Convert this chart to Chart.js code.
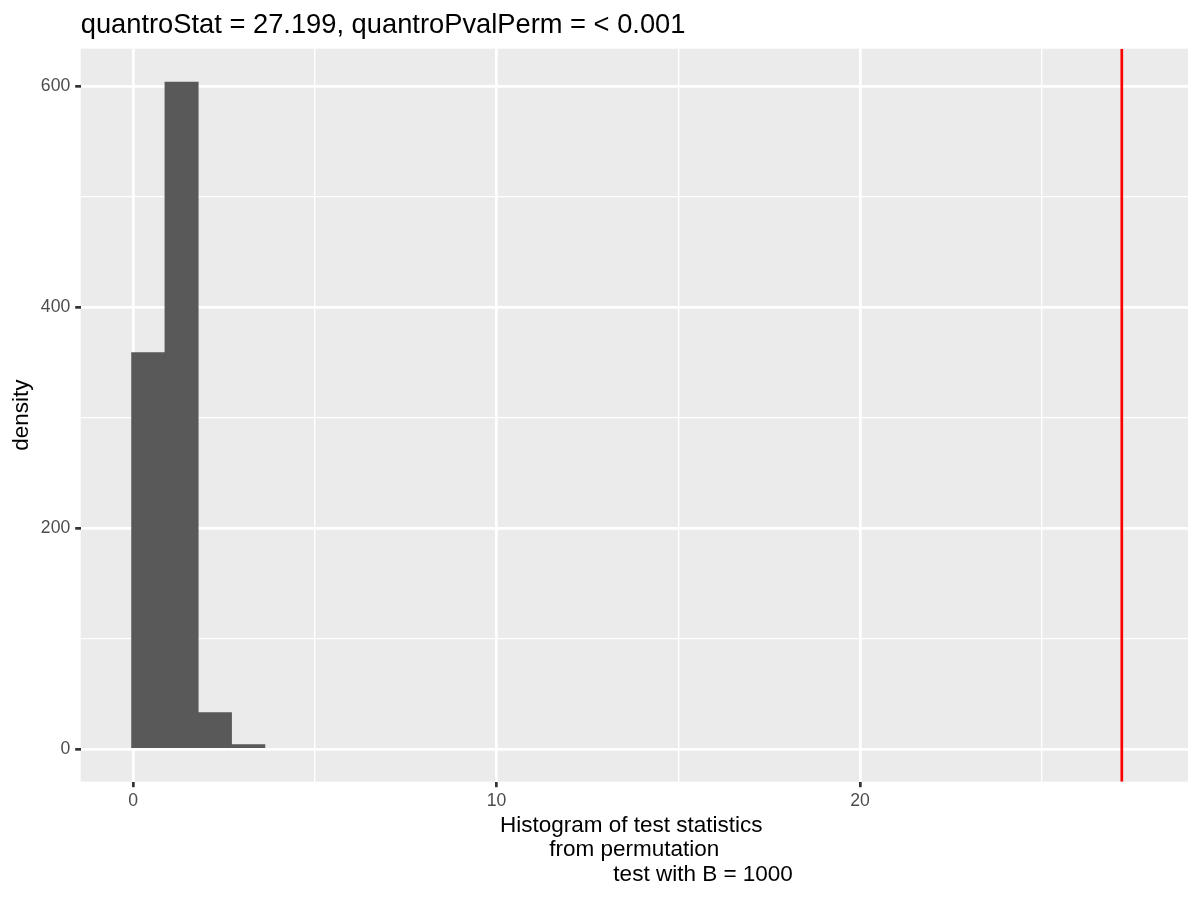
<!DOCTYPE html>
<html>
<head>
<meta charset="utf-8">
<script src="https://cdn.jsdelivr.net/npm/chart.js@4/dist/chart.umd.min.js"></script>
<style>
  html, body { margin: 0; padding: 0; background: #ffffff; }
  #wrap { width: 1200px; height: 900px; }
</style>
</head>
<body>
<div id="wrap"><canvas id="histChart" width="1200" height="900"></canvas></div>
<script>
// permutation test statistics, binned (ggplot histogram)
const binCenters = [0.418, 1.335, 2.252, 3.169];
const binCounts = [359, 604, 33, 4];
const quantroStat = [27.199];
const xTickValues = [0, 10, 20];
const yTickValues = [0, 200, 400, 600];
const plotTitle = 'quantroStat = 27.199, quantroPvalPerm = < 0.001';
const xTitle = ['Histogram of test statistics ', ' from permutation ', '                      test with B = 1000'];
const yTitle = 'density';

Chart.defaults.font.family = "'Liberation Sans', Arial, sans-serif";

const isMajorX = c => !!c.tick && xTickValues.includes(c.tick.value);
const isMajorY = c => !!c.tick && yTickValues.includes(c.tick.value);

// grey panel behind the grid
const panelBg = {
    id: 'panelBg',
    beforeDraw(chart) {
        const a = chart.chartArea, ctx = chart.ctx;
        ctx.save();
        ctx.fillStyle = '#EBEBEB';
        ctx.fillRect(a.left, a.top, a.right - a.left, a.bottom - a.top);
        ctx.restore();
    }
};

// red reference line at the observed statistic + title text
const statLine = {
    id: 'statLine',
    afterDatasetsDraw(chart) {
        const a = chart.chartArea, ctx = chart.ctx;
        const x = chart.scales.x.getPixelForValue(quantroStat[0]);
        ctx.save();
        ctx.beginPath();
        ctx.rect(a.left, a.top, a.right - a.left, a.bottom - a.top);
        ctx.clip();
        ctx.strokeStyle = '#FF0000';
        ctx.lineWidth = 2.7;
        ctx.beginPath();
        ctx.moveTo(x, a.top);
        ctx.lineTo(x, a.bottom);
        ctx.stroke();
        ctx.restore();

        ctx.save();
        ctx.fillStyle = '#000000';
        ctx.font = "27.3px 'Liberation Sans', Arial, sans-serif";
        ctx.textBaseline = 'alphabetic';
        ctx.textAlign = 'left';
        ctx.fillText(plotTitle, a.left, 32.7);
        ctx.restore();
    }
};

new Chart(document.getElementById('histChart'), {
    type: 'bar',
    data: {
        datasets: [{
            label: 'count',
            data: binCenters.map((c, i) => ({ x: c, y: binCounts[i] })),
            backgroundColor: '#595959',
            borderWidth: 0,
            barPercentage: 1,
            categoryPercentage: 1
        }]
    },
    options: {
        responsive: false,
        animation: false,
        layout: { padding: { left: 0, right: 12, top: 48.7, bottom: 0 } },
        plugins: {
            legend: { display: false },
            tooltip: { enabled: false },
            title: { display: false }
        },
        scales: {
            x: {
                type: 'linear',
                offset: false,
                min: -1.44,
                max: 29.02,
                afterFit: s => { s.height = 118.3; },
                border: { display: false },
                grid: {
                    offset: false,
                    color: '#FFFFFF',
                    lineWidth: c => isMajorX(c) ? 2.7 : 1.35,
                    drawTicks: true,
                    tickLength: 5.5,
                    tickColor: c => isMajorX(c) ? '#333333' : 'rgba(0,0,0,0)',
                    tickWidth: c => isMajorX(c) ? 2.7 : 0
                },
                ticks: {
                    stepSize: 5,
                    includeBounds: false,
                    autoSkip: false,
                    maxRotation: 0,
                    padding: 3,
                    color: '#4D4D4D',
                    font: { size: 17.6 },
                    callback: v => xTickValues.includes(v) ? String(v) : ''
                },
                title: {
                    display: true,
                    text: xTitle,
                    color: '#000000',
                    font: { size: 22.5, lineHeight: 1.09 },
                    padding: { top: 0, bottom: 13 }
                }
            },
            y: {
                type: 'linear',
                min: -29.6,
                max: 634.3,
                afterFit: s => { s.width = 80.7; },
                border: { display: false },
                grid: {
                    color: '#FFFFFF',
                    lineWidth: c => isMajorY(c) ? 2.7 : 1.35,
                    drawTicks: true,
                    tickLength: 5.5,
                    tickColor: c => isMajorY(c) ? '#333333' : 'rgba(0,0,0,0)',
                    tickWidth: c => isMajorY(c) ? 2.7 : 0
                },
                ticks: {
                    stepSize: 100,
                    includeBounds: false,
                    autoSkip: false,
                    padding: 5,
                    color: '#4D4D4D',
                    font: { size: 17.6 },
                    callback: v => yTickValues.includes(v) ? String(v) : ''
                },
                title: {
                    display: true,
                    text: yTitle,
                    color: '#000000',
                    font: { size: 22.5, lineHeight: 1.09 },
                    padding: { top: 10, bottom: 0 }
                }
            }
        }
    },
    plugins: [panelBg, statLine]
});
</script>
</body>
</html>
